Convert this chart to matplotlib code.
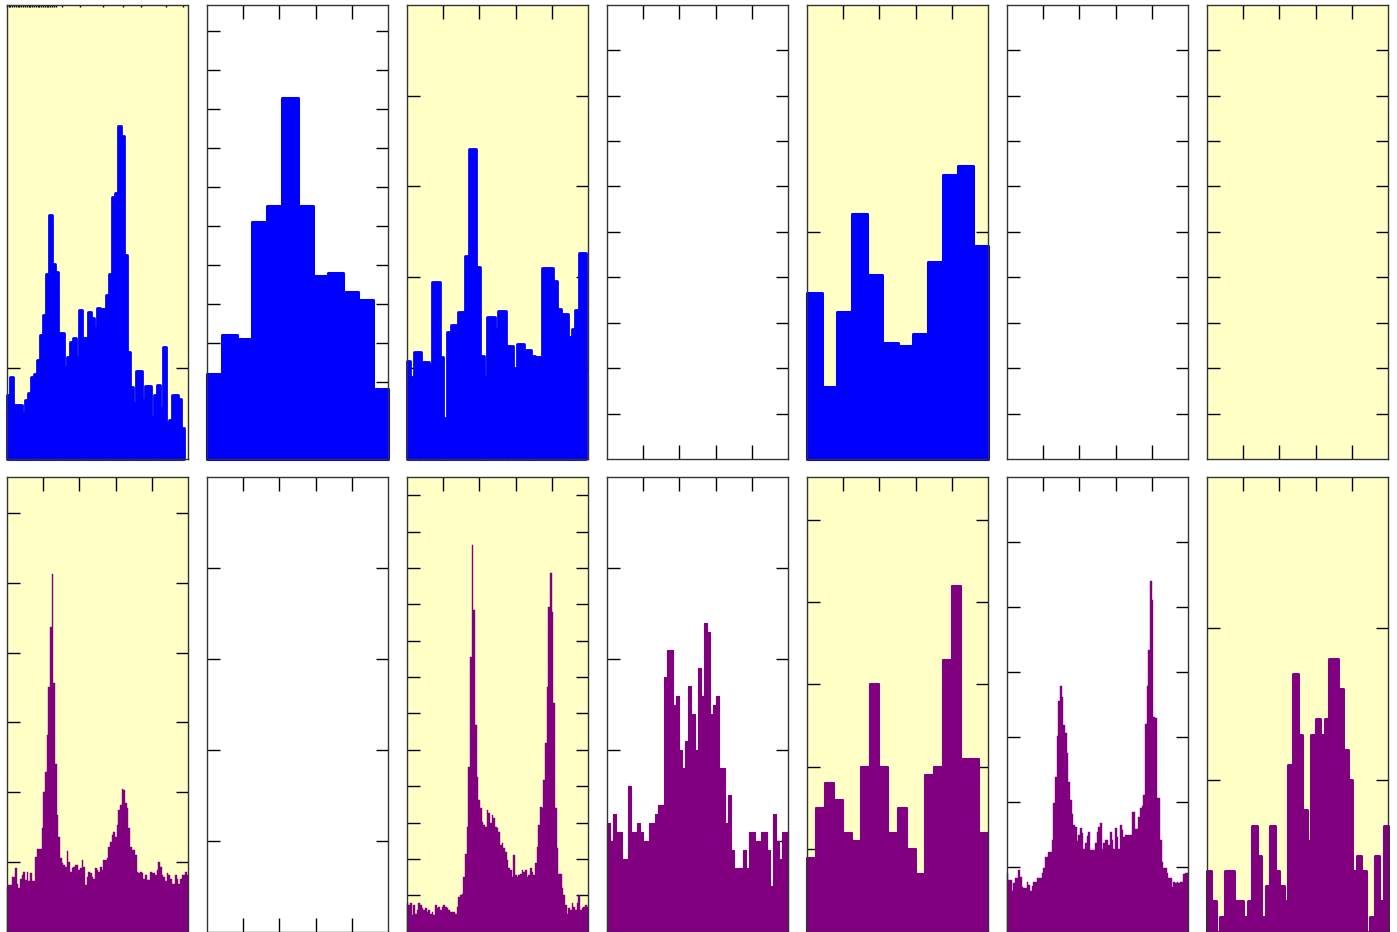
import numpy as np
import matplotlib.pyplot as plt

# === bin heights (top row = blue, bottom row = purple) ===
top_0 = [7.1, 9.1, 6.0, 6.0, 6.0, 5.1, 6.5, 7.3, 9.1, 9.4, 10.9, 13.7, 15.9, 20.4, 26.9,
         21.5, 20.6, 13.9, 13.9, 10.2, 11.3, 12.9, 13.3, 11.3, 16.4, 13.3, 13.3, 16.2, 15.5,
         14.4, 16.6, 16.5, 16.5, 18.1, 20.4, 28.8, 29.3, 36.7, 35.6, 22.5, 11.8, 8.0, 6.2,
         9.7, 9.7, 6.5, 8.1, 8.1, 4.7, 7.1, 8.2, 5.6, 12.4, 4.0, 4.3, 7.1, 7.1, 6.6, 3.4]
top_1 = [22, 32, 31, 61, 65, 93, 65, 47, 48, 43, 41, 18]
top_2 = [10.8, 9.1, 11.8, 11.8, 10.7, 10.7, 10.4, 19.5, 19.5, 11.3, 4.5, 14.0, 14.8, 14.8,
         16.2, 16.2, 22.4, 34.1, 34.1, 21.1, 11.4, 9.0, 15.6, 15.6, 14.3, 16.3, 16.3, 12.5,
         12.5, 10.0, 12.7, 12.7, 12.0, 12.0, 11.4, 11.3, 11.3, 21.0, 21.0, 21.0, 19.6, 16.5,
         16.0, 16.0, 13.4, 14.3, 16.4, 22.7, 22.7]
top_4 = [7.3, 3.2, 6.5, 10.8, 8.1, 5.1, 5.0, 5.5, 8.7, 12.5, 12.9, 9.4]

bottom_0 = [6.4, 6.7, 6.7, 7.9, 7.9, 9.1, 6.9, 6.2, 7.6, 8.1,
            8.6, 7.4, 8.6, 7.2, 8.4, 7.2, 7.2, 10.7, 11.9, 11.9,
            11.9, 14.8, 20.0, 22.9, 28.2, 35.1, 43.7, 51.3, 35.6, 24.1,
            16.7, 13.6, 10.5, 9.8, 9.5, 9.3, 11.5, 10.0, 8.6, 9.1,
            9.3, 9.5, 9.5, 8.8, 9.1, 10.3, 9.3, 6.7, 7.9, 8.6,
            8.4, 7.9, 7.6, 9.1, 8.8, 8.6, 9.3, 8.8, 10.3, 10.3,
            10.5, 12.2, 12.9, 13.8, 14.3, 13.6, 15.3, 17.4, 18.1, 20.5,
            20.3, 18.4, 17.7, 14.8, 12.2, 11.7, 11.7, 11.0, 8.6, 8.4,
            8.6, 8.4, 7.6, 8.1, 7.4, 7.4, 8.6, 8.4, 8.4, 8.1,
            8.8, 10.0, 9.3, 8.1, 7.9, 7.2, 8.4, 8.1, 7.6, 6.9,
            6.9, 8.1, 7.6, 6.9, 7.6, 8.1, 8.1, 8.6, 8.1]
bottom_2 = [7.8, 7.3, 7.8, 4.6, 7.3, 5.0, 6.0, 7.8, 7.3, 6.4,
            6.0, 6.4, 5.5, 6.0, 5.0, 5.5, 4.6, 7.3, 6.4, 6.9,
            6.0, 6.9, 7.3, 6.9, 6.4, 6.0, 5.5, 5.5, 5.5, 5.0,
            6.9, 9.6, 10.1, 10.5, 15.1, 21.5, 28.9, 45.4, 75.6, 106.3,
            88.5, 56.8, 42.6, 36.2, 33.9, 30.2, 29.3, 28.9, 33.5, 32.5,
            29.8, 32.1, 31.2, 28.9, 28.4, 27.5, 23.8, 24.3, 22.9, 22.0,
            19.7, 17.4, 17.0, 15.1, 21.1, 15.6, 15.1, 15.6, 16.0, 17.0,
            16.5, 17.0, 15.1, 15.6, 17.4, 16.5, 15.6, 18.8, 23.4, 29.3,
            34.4, 33.9, 41.7, 51.8, 67.4, 89.4, 98.5, 88.0, 62.8, 33.9,
            22.9, 16.0, 16.0, 11.9, 10.1, 7.3, 5.0, 6.4, 6.0, 7.8,
            6.9, 6.0, 7.8, 10.1, 6.0, 6.4, 6.9, 7.3, 6.9]
bottom_3 = [12, 10, 13, 11, 11, 8, 8, 16, 11, 11, 12, 11, 10, 10, 12, 12, 13, 14, 14, 28,
            31, 31, 25, 26, 20, 18, 21, 27, 24, 20, 29, 26, 34, 33, 24, 25, 26, 18, 18, 12,
            15, 9, 7, 7, 7, 9, 7, 11, 11, 10, 10, 11, 11, 9, 5, 13, 10, 8, 11, 11]
bottom_4 = [9, 15, 18, 16, 12, 11, 20, 30, 20, 12, 15, 10, 7, 19, 20, 33, 42, 21, 21, 12]
bottom_5 = [9.0, 7.9, 7.9, 6.2, 7.5, 8.2, 8.2, 9.5, 8.5, 6.9,
            6.7, 6.7, 7.7, 7.2, 6.3, 7.0, 7.7, 7.7, 8.2, 8.2,
            8.2, 9.0, 9.8, 11.5, 11.5, 12.3, 12.3, 14.1, 19.8, 23.9,
            30.1, 35.5, 37.8, 36.2, 31.9, 30.6, 27.5, 23.1, 20.3, 18.2,
            16.4, 16.2, 14.0, 14.9, 15.9, 15.2, 12.8, 13.6, 14.7, 15.3,
            12.6, 12.6, 12.6, 13.6, 15.4, 16.2, 16.8, 12.7, 13.6, 14.2,
            14.2, 13.4, 15.3, 14.1, 12.8, 15.9, 14.6, 12.7, 16.5, 15.7,
            14.6, 14.9, 14.9, 14.9, 14.9, 18.4, 18.4, 15.8, 15.8, 17.7,
            19.0, 19.4, 21.1, 32.0, 37.8, 43.4, 54.1, 51.1, 33.1, 32.9,
            20.6, 20.6, 14.1, 10.8, 9.8, 9.8, 9.0, 8.2, 8.2, 6.9,
            7.7, 7.5, 7.6, 7.5, 7.7, 7.6, 8.9, 9.0, 9.0]
bottom_6 = [4, 2, 0, 1, 4, 4, 2, 2, 1, 2, 7, 5, 1, 3, 7, 4, 3, 2, 11, 17,
            13, 8, 6, 13, 14, 13, 14, 18, 18, 16, 12, 10, 4, 5, 4, 0, 1, 5, 2, 7]

top_data = [top_0, top_1, top_2, None, top_4, None, None]
bottom_data = [bottom_0, None, bottom_2, bottom_3, bottom_4, bottom_5, bottom_6]

# right end of the binned range (fraction of the x axis)
top_xend = [0.974, 1.0, 0.989, 1.0, 1.0, 1.0, 1.0]
bottom_xend = [1.0] * 7

top_ylim = [50, 116.9, 50, 10, 20, 10, 10]
bottom_ylim = [65.2, 5, 125.1, 50.1, 55.2, 70.1, 30]
top_yticks = [[10], np.arange(10, 111, 10), [10, 20, 30, 40], np.arange(1, 10),
              [10], np.arange(1, 10), np.arange(1, 10)]
bottom_yticks = [np.arange(10, 61, 10), [1, 2, 3, 4], np.arange(10, 121, 10), [10, 20, 30, 40],
                 np.arange(10, 51, 10), np.arange(10, 61, 10), [10, 20]]

top_lw = [2.0, 2.2, 2.0, 0, 2.2, 0, 0]
bottom_lw = [0.3, 0, 0.3, 0.8, 1.5, 0.3, 2.2]

yellow = '#ffffc6'
fig = plt.figure(figsize=(13.97, 9.32), dpi=100)

W, H = 1397.0, 932.0
for row in range(2):
    for col in range(7):
        left = (6.7 + 200 * col) / W
        if row == 0:
            rect = [left, (H - 459.3) / H, 181.7 / W, 454.7 / H]
            data, xend, ylim, yt, lw, color = (top_data[col], top_xend[col], top_ylim[col],
                                               top_yticks[col], top_lw[col], 'blue')
        else:
            rect = [left, (H - 931.7) / H, 181.7 / W, 455.0 / H]
            data, xend, ylim, yt, lw, color = (bottom_data[col], bottom_xend[col], bottom_ylim[col],
                                               bottom_yticks[col], bottom_lw[col], 'purple')
        ax = fig.add_axes(rect)
        ax.set_facecolor(yellow if col % 2 == 0 else 'white')
        ax.set_axisbelow(True)

        if data is not None:
            edges = np.linspace(0, xend, len(data) + 1)
            centers = 0.5 * (edges[:-1] + edges[1:])
            _, _, patches = ax.hist(centers, bins=edges, weights=data, histtype='bar',
                                    rwidth=1.0, color=color, edgecolor=color, linewidth=lw)
            for p in patches:
                p.set_joinstyle('round')
                p.set_clip_on(False)

        ax.set_xlim(0, 1)
        ax.set_ylim(0, ylim)
        ax.set_yticks(yt)
        if row == 0 and col == 0:
            ax.set_xticks(list(np.linspace(0, 0.27, 28)) + [0.303, 0.404, 0.532, 0.642, 0.738, 0.875, 0.969])
            ax.tick_params(axis='x', length=1.5)
        else:
            ax.set_xticks([0.2, 0.4, 0.6, 0.8])
            ax.tick_params(axis='x', length=10)
        ax.tick_params(axis='y', length=9)
        ax.tick_params(which='both', direction='in', top=True, bottom=True, left=True, right=True,
                       labelbottom=False, labelleft=False, width=1.0, color='black')
        for s in ax.spines.values():
            s.set_color('#333333')
            s.set_linewidth(1.0)

plt.savefig('out.png', dpi=100)
